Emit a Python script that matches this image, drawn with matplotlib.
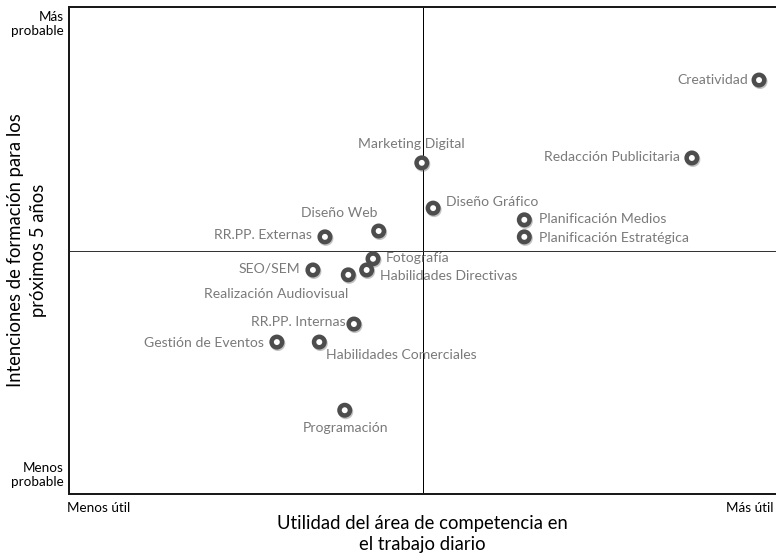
import matplotlib
matplotlib.use('Agg')
import matplotlib.pyplot as plt
import matplotlib.patheffects as pe

# Competencias: utilidad (x) e intenciones de formación (y), escala 0-10
competencias = ['Creatividad', 'Redacción Publicitaria', 'Marketing Digital', 'Diseño Gráfico',
                'Planificación Medios', 'Planificación Estratégica', 'Diseño Web', 'RR.PP. Externas',
                'Fotografía', 'Habilidades Directivas', 'Realización Audiovisual', 'SEO/SEM',
                'RR.PP. Internas', 'Gestión de Eventos', 'Habilidades Comerciales', 'Programación']
utilidad = [9.76, 8.81, 4.99, 5.15, 6.44, 6.44, 4.38, 3.62,
            4.30, 4.21, 3.95, 3.45, 4.03, 2.94, 3.54, 3.90]
intencion = [8.50, 6.90, 6.80, 5.87, 5.63, 5.28, 5.40, 5.28,
             4.83, 4.60, 4.50, 4.60, 3.49, 3.12, 3.12, 1.72]

# posición de cada etiqueta respecto a su punto (puntos), alineación
label_pos = [((-11, 0), 'right'), ((-12, 1), 'right'), ((-10, 19), 'center'), ((13, 6), 'left'),
             ((15, 1), 'left'), ((15, -1), 'left'), ((-39, 18), 'center'), ((-13, 2), 'right'),
             ((13, 1), 'left'), ((13, -6), 'left'), ((-72, -19), 'center'), ((-13, 1), 'right'),
             ((-8, 2), 'right'), ((-13, -1), 'right'), ((7, -13), 'left'), ((1, -18), 'center')]

plt.rcParams['font.family'] = ['Lato', 'DejaVu Sans']

fig = plt.figure(figsize=(776 / 72, 554 / 72), dpi=72)
ax = fig.add_axes([69 / 776, 60 / 554, 707 / 776, 487 / 554])
ax.set_xlim(0, 10)
ax.set_ylim(0, 10)

# cuadrantes
ax.axvline(5, color='black', lw=1, zorder=1)
ax.axhline(5, color='#333333', lw=1, zorder=1)

ax.plot(utilidad, intencion, 'o', ls='none', ms=10.5, mew=4.5, mfc='white', mec='#4d4d4d', zorder=3,
        path_effects=[pe.SimpleLineShadow(offset=(1, -1.5), alpha=0.35, shadow_color='#555555'), pe.Normal()])

for name, x, y, (off, ha) in zip(competencias, utilidad, intencion, label_pos):
    ax.annotate(name, (x, y), xytext=off, textcoords='offset points', ha=ha, va='center',
                fontsize=14, color='#7a7a7a', zorder=4)

ax.spines['right'].set_visible(False)
for side in ['left', 'bottom', 'top']:
    ax.spines[side].set_linewidth(2)
    ax.spines[side].set_color('#1a1a1a')
ax.set_xticks([])
ax.set_yticks([])

# extremos de los ejes
fig.text(64 / 776, 1 - 24 / 554, 'Más\nprobable', ha='right', va='center', fontsize=13.5, linespacing=1.25)
fig.text(64 / 776, 1 - 475 / 554, 'Menos\nprobable', ha='right', va='center', fontsize=13.5, linespacing=1.25)
fig.text(67 / 776, 1 - 508 / 554, 'Menos útil', ha='left', va='center', fontsize=13.5)
fig.text(774 / 776, 1 - 508 / 554, 'Más útil', ha='right', va='center', fontsize=13.5)

fig.text(422 / 776, 1 - 534 / 554, 'Utilidad del área de competencia en\nel trabajo diario',
         ha='center', va='center', fontsize=18.5, linespacing=1.35)
fig.text(27 / 776, 1 - 250 / 554, 'Intenciones de formación para los\npróximos 5 años',
         ha='center', va='center', rotation=90, fontsize=18.5, linespacing=1.4)

fig.savefig('out.png', dpi=72)
